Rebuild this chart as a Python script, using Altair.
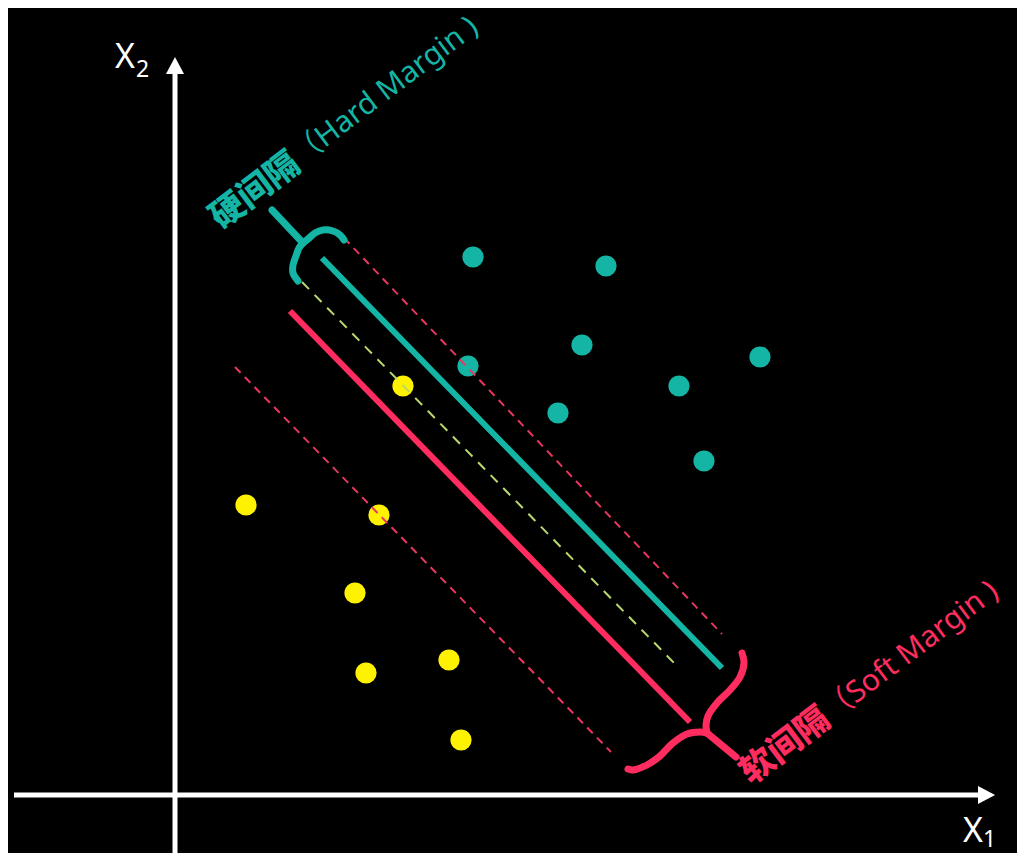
import altair as alt
import pandas as pd

TEAL = "#14b5a5"
PINK = "#ff2d5f"
PINK_DASH = "#e8375f"
YELLOW = "#fff200"
GREEN = "#b9d96c"
WHITE = "#ffffff"

# ---- data (units: pixels from the axis origin; x1 to the right, x2 upward) ----
teal_x1 = [298, 431, 407, 293, 585, 504, 383, 529]
teal_x2 = [538, 529, 450, 429, 438, 409, 382, 334]
yellow_x1 = [228, 71, 204, 180, 191, 274, 286]
yellow_x2 = [409, 290, 280, 202, 122, 135, 55]

# straight lines
solid_names = ["hard", "soft"]
solid_x_from = [147, 115]
solid_y_from = [537, 484]
solid_x_to = [547, 515]
solid_y_to = [127, 73]

dash_names = ["centre", "soft_upper", "soft_lower"]
dash_x_from = [127, 169, 60]
dash_y_from = [513, 557, 428]
dash_x_to = [503, 547, 436]
dash_y_to = [128, 161, 43]

axis_x_from = [-161, 0]
axis_y_from = [0, -58]
axis_x_to = [803, 0]
axis_y_to = [0, 721]

# braces
hard_stem_x = [97, 128]
hard_stem_y = [585, 552]
hard_arm1_x = [128, 133, 140, 148, 158, 165, 169]
hard_arm1_y = [552, 556, 562, 565, 564, 560, 555]
hard_arm2_x = [128, 124, 121, 118, 118, 123]
hard_arm2_y = [552, 547, 539, 530, 522, 514]
soft_stem_x = [532, 561]
soft_stem_y = [62, 38]
soft_arm1_x = [532, 531, 533, 542, 555, 565, 569, 567]
soft_arm1_y = [62, 70, 79, 92, 105, 118, 132, 142]
soft_arm2_x = [532, 525, 512, 498, 485, 472, 458, 453]
soft_arm2_y = [62, 63, 61, 52, 39, 30, 25, 26]

# labels
cn_texts = ["硬间隔", "软间隔"]
cn_x = [40, 570]
cn_y = [573, 18]
en_texts = ["（Hard Margin )", "（Soft Margin )"]
en_x = [120, 651]
en_y = [636, 80]
label_colors = [TEAL, PINK]

axis_label_main = ["X", "X"]
axis_label_main_x = [-60, 788]
axis_label_main_y = [727, -47]
axis_label_sub = ["2", "1"]
axis_label_sub_x = [-39, 808]
axis_label_sub_y = [718, -52]

# ---- scales (chart placed at the page's 8px margin) ----
XS = alt.Scale(domain=[-167, 842], nice=False, zero=False)
YS = alt.Scale(domain=[-58, 787], nice=False, zero=False)


def X(f="x"):
    return alt.X(f"{f}:Q", scale=XS, axis=None)


def Y(f="y"):
    return alt.Y(f"{f}:Q", scale=YS, axis=None)


layers = []

# axes
df_axes = pd.DataFrame({"x": axis_x_from, "y": axis_y_from, "x2": axis_x_to, "y2": axis_y_to})
layers.append(
    alt.Chart(df_axes).mark_rule(color=WHITE, strokeWidth=5).encode(
        x=X(), y=Y(), x2="x2:Q", y2="y2:Q"
    )
)
df_up = pd.DataFrame({"x": [axis_x_to[1]], "y": [axis_y_to[1]]})
df_right = pd.DataFrame({"x": [axis_x_to[0]], "y": [axis_y_to[0]]})
layers.append(
    alt.Chart(df_up).mark_point(
        shape="M0,-1.9L1,0L-1,0Z", filled=True, color=WHITE, opacity=1, size=324, strokeWidth=0
    ).encode(x=X(), y=Y())
)
layers.append(
    alt.Chart(df_right).mark_point(
        shape="M1.9,0L0,-1L0,1Z", filled=True, color=WHITE, opacity=1, size=324, strokeWidth=0
    ).encode(x=X(), y=Y())
)

# points
df_teal = pd.DataFrame({"x": teal_x1, "y": teal_x2})
df_yellow = pd.DataFrame({"x": yellow_x1, "y": yellow_x2})
for d, c in [(df_teal, TEAL), (df_yellow, YELLOW)]:
    layers.append(
        alt.Chart(d).mark_circle(color=c, opacity=1, size=450).encode(x=X(), y=Y())
    )

# solid lines
solid_colors = [TEAL, PINK]
for i in range(len(solid_names)):
    d = pd.DataFrame({"x": [solid_x_from[i]], "y": [solid_y_from[i]],
                      "x2": [solid_x_to[i]], "y2": [solid_y_to[i]]})
    layers.append(
        alt.Chart(d).mark_rule(color=solid_colors[i], strokeWidth=6).encode(
            x=X(), y=Y(), x2="x2:Q", y2="y2:Q"
        )
    )

# dashed lines
dash_colors = [GREEN, PINK_DASH, PINK_DASH]
dash_patterns = [[10, 8], [8, 6], [8, 6]]
for i in range(len(dash_names)):
    d = pd.DataFrame({"x": [dash_x_from[i]], "y": [dash_y_from[i]],
                      "x2": [dash_x_to[i]], "y2": [dash_y_to[i]]})
    layers.append(
        alt.Chart(d).mark_rule(color=dash_colors[i], strokeWidth=2,
                               strokeDash=dash_patterns[i]).encode(
            x=X(), y=Y(), x2="x2:Q", y2="y2:Q"
        )
    )


# braces
def brace_df(parts):
    rows = []
    for pid, (xs, ys) in enumerate(parts):
        for j, (a, b) in enumerate(zip(xs, ys)):
            rows.append({"part": pid, "i": j, "x": a, "y": b})
    return pd.DataFrame(rows)


df_hard_brace = brace_df([(hard_stem_x, hard_stem_y), (hard_arm1_x, hard_arm1_y), (hard_arm2_x, hard_arm2_y)])
df_soft_brace = brace_df([(soft_stem_x, soft_stem_y), (soft_arm1_x, soft_arm1_y), (soft_arm2_x, soft_arm2_y)])
for d, c in [(df_hard_brace, TEAL), (df_soft_brace, PINK)]:
    layers.append(
        alt.Chart(d).mark_line(color=c, strokeWidth=7, interpolate="catmull-rom",
                               strokeCap="round", strokeJoin="round").encode(
            x=X(), y=Y(), detail="part:N", order="i:Q"
        )
    )

# labels
for k in range(2):
    d_cn = pd.DataFrame({"x": [cn_x[k]], "y": [cn_y[k]], "t": [cn_texts[k]]})
    d_en = pd.DataFrame({"x": [en_x[k]], "y": [en_y[k]], "t": [en_texts[k]]})
    layers.append(
        alt.Chart(d_cn).mark_text(color=label_colors[k], font="Noto Sans CJK SC", fontWeight=900,
                                  fontSize=34, angle=323, align="left", baseline="middle").encode(
            x=X(), y=Y(), text="t:N"
        )
    )
    layers.append(
        alt.Chart(d_en).mark_text(color=label_colors[k], font="Noto Sans, Noto Sans CJK SC",
                                  fontSize=30, angle=323, align="left", baseline="middle").encode(
            x=X(), y=Y(), text="t:N"
        )
    )

d_main = pd.DataFrame({"x": axis_label_main_x, "y": axis_label_main_y, "t": axis_label_main})
d_sub = pd.DataFrame({"x": axis_label_sub_x, "y": axis_label_sub_y, "t": axis_label_sub})
layers.append(
    alt.Chart(d_main).mark_text(color=WHITE, font="Noto Sans", fontSize=34, align="left",
                                baseline="alphabetic").encode(x=X(), y=Y(), text="t:N")
)
layers.append(
    alt.Chart(d_sub).mark_text(color=WHITE, font="Noto Sans", fontSize=23, align="left",
                               baseline="alphabetic").encode(x=X(), y=Y(), text="t:N")
)

chart = alt.layer(*layers).properties(
    width=1009,
    height=845,
    autosize=alt.AutoSizeParams(type="none"),
    padding=0,
    background="#000000",
).configure_view(stroke=None)

chart.save("out.html", embed_options={"renderer": "svg", "actions": False})
